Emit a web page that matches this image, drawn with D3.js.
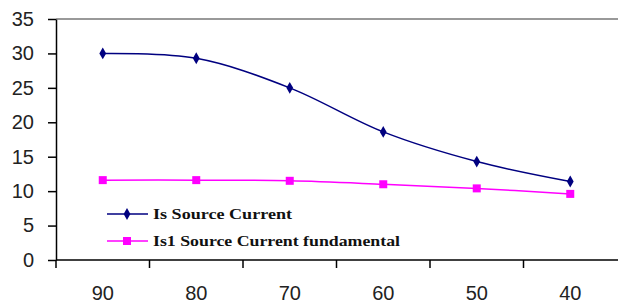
<!DOCTYPE html>
<html lang="en">
<head>
<meta charset="utf-8">
<style>
  body { margin: 0; background: #fff; }
  .axis text { font-family: "Liberation Sans", Arial, sans-serif; font-size: 20px; fill: #222; }
  .axis .domain, .axis .tick line { stroke: #000; stroke-width: 1.5; }
  .legend text { font-family: "Liberation Serif", serif; font-size: 15px; font-weight: bold; fill: #111; }
</style>
</head>
<body>
<div class="graph"></div>
<script src="https://d3js.org/d3.v7.min.js"></script>
<script>
// data
var categories = ["90", "80", "70", "60", "50", "40"];
var sourceCurrent = [30, 29.3, 25, 18.6, 14.3, 11.4];
var fundamental = [11.6, 11.6, 11.5, 11.0, 10.4, 9.6];
var yTicks = [0, 5, 10, 15, 20, 25, 30, 35];
var seriesNames = ["Is Source Current", "Is1 Source Current fundamental"];

var W = 618, H = 305;
var margin = {top: 19, right: 1, bottom: 45, left: 56};
var width = W - margin.left - margin.right,
    height = H - margin.top - margin.bottom;

var svg = d3.select(".graph").append("svg")
  .attr("width", W).attr("height", H);
var g = svg.append("g").attr("transform", "translate(" + margin.left + "," + margin.top + ")");

var x = d3.scaleBand().domain(categories).range([0, width]);
var y = d3.scaleLinear().domain([0, 35]).range([height, 0]);

// top border
g.append("line").attr("x1", 0).attr("x2", width + 2).attr("y1", 0).attr("y2", 0)
  .attr("stroke", "#999").attr("stroke-width", 2);

// y axis
var yAxis = g.append("g").attr("class", "axis")
  .call(d3.axisLeft(y).tickValues(yTicks).tickSize(8).tickSizeOuter(0).tickPadding(14));

// x axis: ticks sit between the categories
var xAxis = g.append("g").attr("class", "axis")
  .attr("transform", "translate(0," + height + ")")
  .call(d3.axisBottom(x).tickSize(0).tickSizeOuter(0).tickPadding(26));
xAxis.select(".domain").attr("d", "M0,0H" + (width + 2));
xAxis.selectAll(".bound").data(d3.range(categories.length)).enter().append("line")
  .attr("x1", function(i) { return x(categories[i]); })
  .attr("x2", function(i) { return x(categories[i]); })
  .attr("y1", 0).attr("y2", 8)
  .attr("stroke", "#000").attr("stroke-width", 1.5);

function cx(d, i) { return x(categories[i]) + x.bandwidth() / 2; }

var line = d3.line()
  .curve(d3.curveCatmullRom.alpha(0.5))
  .x(cx)
  .y(function(d) { return y(d); });

g.append("path").datum(fundamental)
  .attr("fill", "none").attr("stroke", "#ff00ff").attr("stroke-width", 1.5)
  .attr("d", line);
g.append("path").datum(sourceCurrent)
  .attr("fill", "none").attr("stroke", "#000080").attr("stroke-width", 1.5)
  .attr("d", line);

var diamond = d3.symbol().type(d3.symbolDiamond).size(40);
g.selectAll(".m1").data(sourceCurrent).enter().append("path")
  .attr("transform", function(d, i) { return "translate(" + cx(d, i) + "," + y(d) + ")"; })
  .attr("d", diamond).attr("fill", "#000080");
g.selectAll(".m2").data(fundamental).enter().append("rect")
  .attr("x", function(d, i) { return cx(d, i) - 4; })
  .attr("y", function(d) { return y(d) - 4; })
  .attr("width", 8).attr("height", 8).attr("fill", "#ff00ff");

// legend
var legend = svg.append("g").attr("class", "legend");
var legendColors = ["#000080", "#ff00ff"];
var legendY = [214, 241];
var legendLen = [139, 247];
seriesNames.forEach(function(name, i) {
  var row = legend.append("g").attr("transform", "translate(107," + legendY[i] + ")");
  row.append("line").attr("x1", 0).attr("x2", 41).attr("y1", 0).attr("y2", 0)
    .attr("stroke", legendColors[i]).attr("stroke-width", 1.5);
  if (i === 0) {
    row.append("path").attr("transform", "translate(20,0)").attr("d", diamond).attr("fill", legendColors[i]);
  } else {
    row.append("rect").attr("x", 16).attr("y", -4).attr("width", 8).attr("height", 8).attr("fill", legendColors[i]);
  }
  row.append("text").attr("x", 46).attr("y", 5)
    .attr("textLength", legendLen[i]).attr("lengthAdjust", "spacingAndGlyphs")
    .text(name);
});
</script>
</body>
</html>
